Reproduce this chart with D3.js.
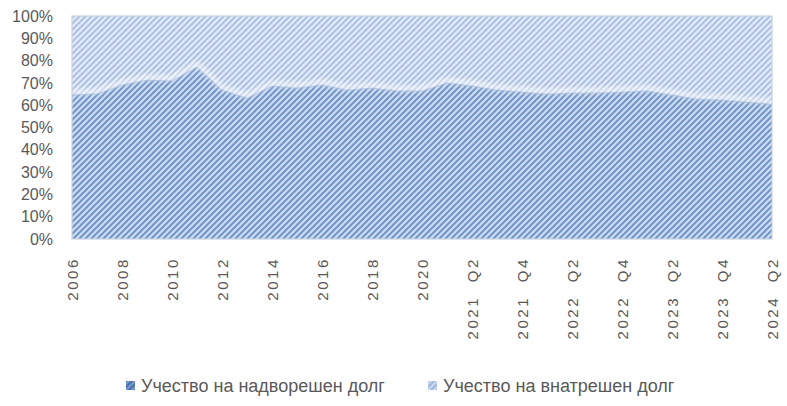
<!DOCTYPE html>
<html>
<head>
<meta charset="utf-8">
<script src="https://cdn.jsdelivr.net/npm/d3@7"></script>
<style>
    body { margin: 0; background: #fff; }
    svg { display: block; font-family: 'Liberation Sans', Arial, sans-serif; }
    .tick-y { font-size: 16px; fill: #595959; }
    .tick-x { font-size: 15px; fill: #595959; letter-spacing: 2.6px; white-space: pre; }
    .legend-text { font-size: 18px; fill: #595959; }
</style>
</head>
<body>
<svg id="chart" width="787" height="406"></svg>
<script>
// categories: years, then quarters
const years = ['2006', '2007', '2008', '2009', '2010', '2011', '2012', '2013', '2014', '2015',
    '2016', '2017', '2018', '2019', '2020'];
const quarters = ['2021  Q1', '2021  Q2', '2021  Q3', '2021  Q4', '2022  Q1', '2022  Q2', '2022  Q3',
    '2022  Q4', '2023  Q1', '2023  Q2', '2023  Q3', '2023  Q4', '2024  Q1', '2024  Q2'];
const categories = years.concat(quarters);

// share of external debt, %
const externalShare = [64.5, 65, 69, 71.2, 70.8, 77.1, 66.7, 63.1, 68.5, 67.6, 69, 66.7, 67.6, 66.3, 66.3,
    69.9, 68.5, 66.7, 65.8, 64.9, 65.4, 65.4, 65.8, 66.3, 64.5, 62.7, 62.2, 61.3, 60.4];
const domesticShare = externalShare.map(v => 100 - v);

const seriesNames = ['Учество на надворешен долг', 'Учество на внатрешен долг'];
const yTicks = [0, 0.1, 0.2, 0.3, 0.4, 0.5, 0.6, 0.7, 0.8, 0.9, 1];

const rows = categories.map((c, i) => ({ cat: c, ext: externalShare[i], dom: domesticShare[i] }));

const svg = d3.select('#chart');
const plotLeft = 72, plotRight = 772, plotTop = 16, plotBottom = 239;

const x = d3.scalePoint().domain(categories).range([plotLeft, plotRight]);
const y = d3.scaleLinear().domain([0, 1]).range([plotBottom, plotTop]);

// hatch patterns
const defs = svg.append('defs');
function hatch(id, bg, fg, w) {
    const p = defs.append('pattern')
        .attr('id', id)
        .attr('patternUnits', 'userSpaceOnUse')
        .attr('width', 6)
        .attr('height', 6);
    p.append('rect').attr('width', 6).attr('height', 6).attr('fill', bg);
    p.append('path')
        .attr('d', 'M0,6 L6,0 M-1.5,1.5 L1.5,-1.5 M4.5,7.5 L7.5,4.5')
        .attr('stroke', fg)
        .attr('stroke-width', w);
}
hatch('hatch-ext', '#cad9ee', '#6a90c8', 1.9);
hatch('hatch-dom', '#e6edf8', '#adc1e3', 2.2);
hatch('hatch-ext-key', '#7c9fd2', '#4a72ad', 2.4);
hatch('hatch-dom-key', '#cfdcf0', '#a3b9e0', 2.4);

const blur = defs.append('filter').attr('id', 'soft').attr('x', '-5%').attr('y', '-20%')
    .attr('width', '110%').attr('height', '140%');
blur.append('feGaussianBlur').attr('stdDeviation', 2);

const stack = d3.stack().keys(['ext', 'dom']).offset(d3.stackOffsetExpand);
const stacked = stack(rows);
const fills = ['url(#hatch-ext)', 'url(#hatch-dom)'];
const keyFills = ['url(#hatch-ext-key)', 'url(#hatch-dom-key)'];

const area = d3.area()
    .x(d => x(d.data.cat))
    .y0(d => y(d[0]))
    .y1(d => y(d[1]));

svg.append('g')
    .selectAll('path')
    .data(stacked)
    .join('path')
    .attr('d', area)
    .attr('fill', (d, i) => fills[i]);

// soft light edge along the boundary between the series
const edge = d3.line()
    .x(d => x(d.data.cat))
    .y(d => y(d[1]) - 3);
svg.append('path')
    .datum(stacked[0])
    .attr('d', edge)
    .attr('fill', 'none')
    .attr('stroke', '#ffffff')
    .attr('stroke-opacity', 0.6)
    .attr('stroke-width', 5)
    .attr('filter', 'url(#soft)');

svg.append('path')
    .datum(stacked[0])
    .attr('d', d3.line().x(d => x(d.data.cat)).y(d => y(d[1])))
    .attr('fill', 'none')
    .attr('stroke', '#7d9dcc')
    .attr('stroke-opacity', 0.5)
    .attr('stroke-width', 1);

// plot frame
svg.append('rect')
    .attr('x', plotLeft)
    .attr('y', plotTop)
    .attr('width', plotRight - plotLeft)
    .attr('height', plotBottom - plotTop)
    .attr('fill', 'none')
    .attr('stroke', '#c9d2e0')
    .attr('stroke-width', 1.2);

// y axis labels
const yAxis = d3.axisLeft(y)
    .tickValues(yTicks)
    .tickFormat(d3.format('.0%'))
    .tickSize(0)
    .tickPadding(19);
const gy = svg.append('g').attr('transform', `translate(${plotLeft},0)`).call(yAxis);
gy.attr('font-family', null).attr('font-size', null);
gy.select('.domain').remove();
gy.selectAll('text').attr('class', 'tick-y');

// x axis labels, every second category
const xAxis = d3.axisBottom(x)
    .tickValues(categories.filter((c, i) => i % 2 === 0))
    .tickSize(0);
const gx = svg.append('g').attr('transform', `translate(0,${plotBottom})`).call(xAxis);
gx.attr('font-family', null).attr('font-size', null);
gx.select('.domain').remove();
gx.selectAll('text')
    .attr('class', 'tick-x')
    .attr('text-anchor', 'end')
    .attr('transform', 'rotate(-90)')
    .attr('x', -18)
    .attr('y', 0)
    .attr('dy', '0.35em');

// legend
const legendX = [126, 428];
const legend = svg.append('g')
    .selectAll('g')
    .data(seriesNames)
    .join('g')
    .attr('transform', (d, i) => `translate(${legendX[i]},381)`);
legend.append('rect')
    .attr('width', 9)
    .attr('height', 9)
    .attr('fill', (d, i) => keyFills[i]);
legend.append('text')
    .attr('class', 'legend-text')
    .attr('x', 15)
    .attr('y', 4.5)
    .attr('dy', '0.35em')
    .text(d => d);
</script>
</body>
</html>
